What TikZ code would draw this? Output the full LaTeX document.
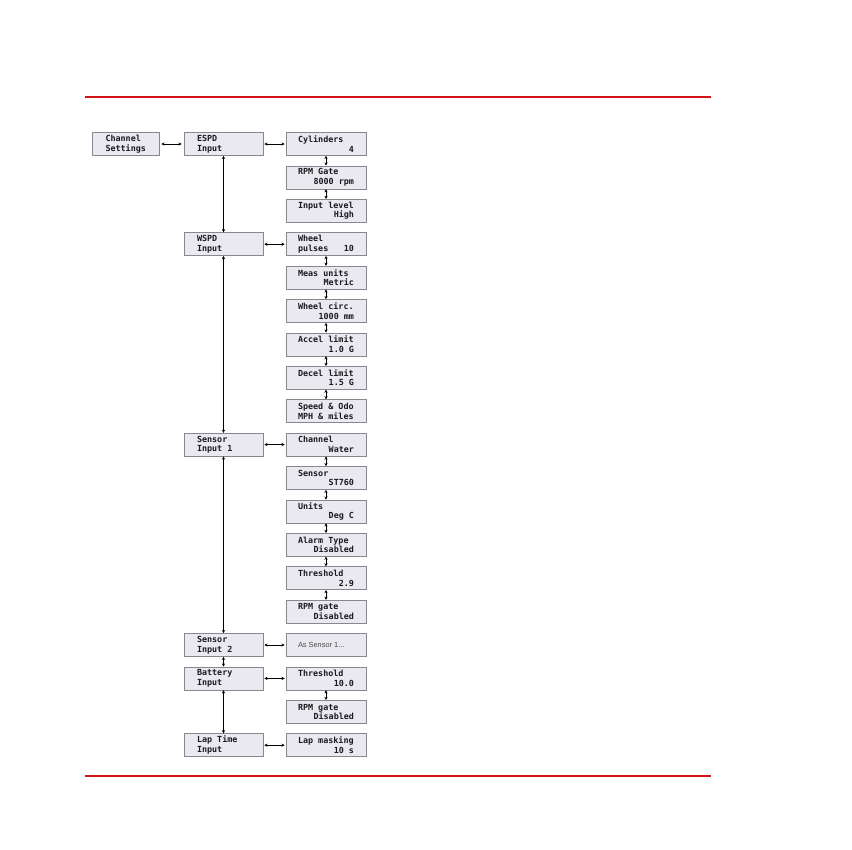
\documentclass[tikz,border=0pt]{standalone}
\usepackage{fontspec}
\setmonofont{DejaVu Sans Mono}
\newfontfamily\lblsans{Liberation Sans}
\usetikzlibrary{arrows.meta}
\definecolor{boxfill}{RGB}{233,233,239}
\definecolor{boxline}{RGB}{135,135,145}
\definecolor{rule}{RGB}{210,20,25}
\definecolor{lcd}{RGB}{25,25,30}
\newcommand{\lcdtxt}[3]{\parbox{#1}{\ttfamily\bfseries\fontsize{8.4}{9.6}\selectfont\color{lcd}#2\\\mbox{}#3}}
\tikzset{
  x=1pt, y=-1pt,
  box/.style={draw=boxline, fill=boxfill, line width=0.6pt, minimum height=23pt, inner sep=0pt},
  rbox/.style={box, minimum width=80pt},
  lbox/.style={box, minimum width=79pt},
  conn/.style={{Stealth[length=3.2pt,width=3.2pt]}-{Stealth[length=3.2pt,width=3.2pt]}, line width=0.6pt, black},
  redrule/.style={draw=rule, line width=1.8pt}
}
\begin{document}
\begin{tikzpicture}
\useasboundingbox (0,0) rectangle (852,850);
\coordinate (r1a) at (85,97); \coordinate (r1b) at (711,97);
\coordinate (r2a) at (85,776); \coordinate (r2b) at (711,776);
\draw[redrule] (r1a) -- (r1b);
\draw[redrule] (r2a) -- (r2b);

% left column
\node[box, minimum width=67pt] (cs) at (125.5,144) {\lcdtxt{40pt}{Channel}{Settings}};
\node[lbox] (espd) at (223.5,144) {\lcdtxt{53pt}{ESPD}{Input}};
\node[lbox] (wspd) at (223.5,244.2) {\lcdtxt{53pt}{WSPD}{Input}};
\node[lbox] (s1) at (223.5,444.6) {\lcdtxt{53pt}{Sensor}{Input 1}};
\node[lbox] (s2) at (223.5,645) {\lcdtxt{53pt}{Sensor}{Input 2}};
\node[lbox] (bat) at (223.5,678.4) {\lcdtxt{53pt}{Battery}{Input}};
\node[lbox] (lap) at (223.5,745.2) {\lcdtxt{53pt}{Lap Time}{Input}};

% right column
\node[rbox] (cyl) at (326,144) {\lcdtxt{56pt}{Cylinders}{\hfill 4}};
\node[rbox] (rpm1) at (326,177.4) {\lcdtxt{56pt}{RPM Gate}{\hfill 8000 rpm}};
\node[rbox] (inl) at (326,210.8) {\lcdtxt{56pt}{Input level}{\hfill High}};
\node[rbox] (whp) at (326,244.2) {\lcdtxt{56pt}{Wheel}{pulses\hfill 10}};
\node[rbox] (meas) at (326,277.6) {\lcdtxt{56pt}{Meas units}{\hfill Metric}};
\node[rbox] (circ) at (326,311) {\lcdtxt{56pt}{Wheel circ.}{\hfill 1000 mm}};
\node[rbox] (acc) at (326,344.4) {\lcdtxt{56pt}{Accel limit}{\hfill 1.0 G}};
\node[rbox] (dec) at (326,377.8) {\lcdtxt{56pt}{Decel limit}{\hfill 1.5 G}};
\node[rbox] (odo) at (326,411.2) {\lcdtxt{56pt}{Speed \& Odo}{MPH \& miles}};
\node[rbox] (chw) at (326,444.6) {\lcdtxt{56pt}{Channel}{\hfill Water}};
\node[rbox] (sen) at (326,478) {\lcdtxt{56pt}{Sensor}{\hfill ST760}};
\node[rbox] (uni) at (326,511.4) {\lcdtxt{56pt}{Units}{\hfill Deg C}};
\node[rbox] (alm) at (326,544.8) {\lcdtxt{56pt}{Alarm Type}{\hfill Disabled}};
\node[rbox] (thr1) at (326,578.2) {\lcdtxt{56pt}{Threshold}{\hfill 2.9}};
\node[rbox] (rpm2) at (326,611.6) {\lcdtxt{56pt}{RPM gate}{\hfill Disabled}};
\node[rbox] (as1) at (326,645) {\parbox{56pt}{\lblsans\fontsize{7.4}{8}\selectfont\color{black!70}As Sensor 1...}};
\node[rbox] (thr2) at (326,678.4) {\lcdtxt{56pt}{Threshold}{\hfill 10.0}};
\node[rbox] (rpm3) at (326,711.8) {\lcdtxt{56pt}{RPM gate}{\hfill Disabled}};
\node[rbox] (lapm) at (326,745.2) {\lcdtxt{56pt}{Lap masking}{\hfill 10 s}};

% horizontal connectors
\draw[conn, shorten <=2pt, shorten >=2pt] (cs) -- (espd);
\foreach \a/\b in {espd/cyl, wspd/whp, s1/chw, s2/as1, bat/thr2, lap/lapm}
  \draw[conn, shorten <=1pt, shorten >=1pt] (\a) -- (\b);

% left vertical connectors
\foreach \a/\b in {espd/wspd, wspd/s1, s1/s2, s2/bat, bat/lap}
  \draw[conn] (\a) -- (\b);

% right vertical connectors
\foreach \a/\b in {cyl/rpm1, rpm1/inl, whp/meas, meas/circ, circ/acc, acc/dec, dec/odo,
  chw/sen, sen/uni, uni/alm, alm/thr1, thr1/rpm2, thr2/rpm3}
  \draw[conn] (\a) -- (\b);
\end{tikzpicture}
\end{document}
